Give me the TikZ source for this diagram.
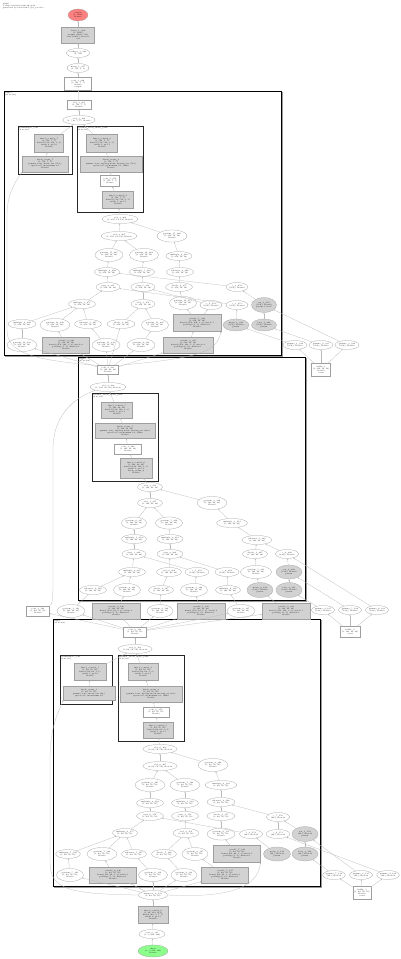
\documentclass[tikz,border=0pt]{standalone}
\usetikzlibrary{arrows.meta,shapes.geometric}
\newcommand\tf{\fontsize{1.8}{2.15}\selectfont}
\tikzset{
 base/.style={inner sep=0pt, font=\tf, align=center, line width=0.25pt},
 el/.style={base, ellipse, draw=gray!75, fill=white},
 gel/.style={base, ellipse, draw=gray!75, fill=gray!35},
 grect/.style={base, rectangle, draw=gray!75, fill=gray!35},
 wrect/.style={base, rectangle, draw=gray!75, fill=white},
 edge/.style={draw=gray!55, line width=0.25pt, -{Stealth[length=1.5pt,width=1.3pt]}},
 clus/.style={draw=black, line width=0.7pt},
 clshadow/.style={draw=gray!80, line width=1pt},
 subc/.style={draw=black!85, line width=0.55pt},
 cllab/.style={anchor=north west, font=\tf, align=left, inner sep=0.6pt},
}
\newcommand\El[6]{\node[el,minimum width=#4pt,minimum height=#5pt] (#1) at (#2,#3) {#6};}
\newcommand\Ge[6]{\node[gel,minimum width=#4pt,minimum height=#5pt] (#1) at (#2,#3) {#6};}
\newcommand\Gr[6]{\node[grect,minimum width=#4pt,minimum height=#5pt] (#1) at (#2,#3) {#6};}
\newcommand\Wr[6]{\node[wrect,minimum width=#4pt,minimum height=#5pt] (#1) at (#2,#3) {#6};}
\newcommand\Clu[5]{\draw[clshadow] (#1+1,#2+1) rectangle (#3+1,#4+1); \draw[clus,fill=white] (#1,#2) rectangle (#3,#4); \node[cllab] at (#1,#2) {#5};}
\begin{document}
\begin{tikzpicture}[x=1pt,y=-1pt]
\fill[white] (0,0) rectangle (400,959);
\useasboundingbox (0,0) rectangle (400,959);
\node[cllab] (title) at (2,2) {graph\\3 stage residual network, fp32\\generated by relay.build, opt\_level=3};
% ---------- clusters ----------
\Clu{4}{91}{281}{355}{stage3\\(31 nodes)}
\draw[subc] (18,126) rectangle (72,174); \node[cllab] at (18,126) {downsample\_conv\\(2 nodes)};
\draw[subc] (77,126) rectangle (143,212); \node[cllab] at (77,126) {residual\_block\_main\_path\\(4 nodes)};
\Clu{78}{357}{305}{600}{stage2\\(27 nodes)}
\draw[subc] (92,393) rectangle (158,481); \node[cllab] at (92,393) {residual\_block\_main\_path\\(4 nodes)};
\Clu{53}{619}{320}{886}{stage1\\(31 nodes)}
\draw[subc] (60,655) rectangle (112,704); \node[cllab] at (60,655) {downsample\_conv\\(2 nodes)};
\draw[subc] (118,655) rectangle (184,741); \node[cllab] at (118,655) {residual\_block\_main\_path\\(4 nodes)};
% ---------- top ----------
\node[base,ellipse,draw=gray!75,fill=red!50,minimum width=20pt,minimum height=12pt] (outp) at (78,15) {output\\(1, 1000)\\float32};
\Gr{r0}{78}{35}{33}{16}{dense\_1\_289\\(1, 1000)\\weight (1000, 512)\\bias (1000,), float32\\out}
\El{e0}{78}{53}{22}{9}{reshape\_1\_288\\(1, 512)}
\El{e1}{78}{68}{22}{9}{mean\_1\_287\\(1, 512, 1, 1)}
\Wr{w0}{78}{84}{27}{13}{relu\_3\_286\\(1, 512, 7, 7)\\float32\\output}
% ---------- cluster 1 ----------
\Wr{c1w}{79}{105}{24}{9}{add\_3\_285\\(1, 512, 7, 7)\\float32}
\El{c1e}{79}{120}{32}{9}{add\_3\_284\\(1, 512, 7, 7), float32}
\Gr{a1}{49}{143}{29}{18}{fused\_conv2d\_7\\(1, 512, 7, 7)\\kernel (512, 256, 1, 1)\\stride 2, pad 0\\float32}
\Gr{a2}{45}{164}{46}{16}{batch\_norm\_7\\(1, 512, 7, 7)\\gamma, beta, mean, var (512,)\\eps=1e-05, momentum 0.1\\float32}
\Gr{b1}{102}{143}{31}{18}{fused\_conv2d\_8\\(1, 512, 7, 7)\\kernel (512, 512, 3, 3)\\stride 1, pad 1\\float32}
\Gr{b2}{111}{164}{62}{16}{batch\_norm\_8\\(1, 512, 7, 7)\\gamma, beta, moving mean, moving var (512,)\\eps=1e-05, momentum 0.1, affine\\float32}
\Wr{b3}{110}{181}{19}{11}{relu\_2\_270\\(1, 512, 7, 7)\\float32}
\Gr{b4}{118}{200}{31}{17}{fused\_conv2d\_9\\(1, 512, 7, 7)\\kernel (512, 512, 3, 3)\\stride 1, pad 1\\float32}
\El{ca1}{120}{219}{33}{9}{add\_2\_268\\(1, 256, 14, 14), float32}
\El{ca2}{119}{236}{32}{9}{add\_2\_267\\(1, 256, 14, 14), float32}
\El{cr1}{172}{236}{30}{12}{getitem\_17\_266\\(1, 256, 14, 14)\\float32}
\El{p1}{109}{255}{28}{13}{getitem\_15\_265\\(1, 256, 14, 14)\\float32}
\El{p2}{144}{255}{29}{13}{getitem\_16\_264\\(1, 256, 14, 14)\\float32}
\El{p3}{179}{256}{26}{9}{multiply\_6\_263\\(1, 256, 14, 14)}
\El{q1}{107}{272}{25}{9}{multiply\_4\_262\\(1, 256, 14, 14)}
\El{q2}{142}{272}{25}{9}{multiply\_5\_261\\(1, 256, 14, 14)}
\El{q3}{180}{272}{27}{9}{subtract\_2\_260\\(1, 256, 14, 14)}
\El{s1}{108}{287}{24}{9}{sqrt\_4\_259\\(1, 256, 14, 14)}
\El{s2}{143}{287}{24}{9}{sqrt\_5\_258\\(1, 256, 14, 14)}
\El{s3}{179}{287}{27}{9}{divide\_2\_257\\(1, 256, 14, 14)}
\El{s4}{237}{287}{21}{9}{c\_1\_256\\(256,), float32}
\El{t1}{82}{304}{27}{9}{multiply\_3\_255\\(1, 256, 14, 14)}
\El{t2}{143}{304}{24}{9}{add\_1\_254\\(1, 256, 14, 14)}
\El{t3}{183}{303}{27}{13}{getitem\_14\_253\\(1, 256, 14, 14)\\float32}
\El{t4}{211}{305}{22}{9}{c\_2\_252\\(256,), float32}
\El{t5}{237}{305}{22}{9}{c\_3\_251\\(256,), float32}
\Ge{t6}{264}{305}{25}{15}{var\_1\_250\\(256,), float32\\param, 1.0e-05}
\El{u1}{22}{324}{28}{9}{multiply\_2\_249\\(1, 256, 14, 14)}
\El{u2}{55}{325}{30}{13}{getitem\_12\_248\\(1, 256, 14, 14)\\float32}
\El{u3}{88}{324}{27}{9}{subtract\_1\_247\\(1, 256, 14, 14)}
\El{u4}{121}{324}{28}{9}{divide\_1\_246\\(1, 256, 14, 14)}
\El{u5}{155}{325}{27}{13}{getitem\_13\_245\\(1, 256, 14, 14)\\float32}
\Gr{u6}{197}{323}{48}{17}{conv2d\_5\_244\\(1, 256, 14, 14)\\kernel (256, 256, 3, 3), stride 1\\padding (1, 1), dilation 1\\float32}
\Ge{u7}{236}{325}{26}{12}{mean\_1\_243\\(256,), float32\\param}
\Ge{u8}{264}{325}{25}{12}{bias\_1\_242\\(256,), float32\\param}
\El{v1}{22}{345}{30}{13}{getitem\_10\_241\\(1, 256, 14, 14)\\float32}
\Gr{v2}{66}{345}{47}{16}{conv2d\_4\_240\\(1, 256, 14, 14)\\kernel (256, 128, 3, 3), stride 2\\padding (1, 1), dilation 1\\float32}
\El{v3}{106}{345}{28}{13}{getitem\_11\_239\\(1, 256, 14, 14)\\float32}
\El{v4}{141}{345}{28}{13}{getitem\_9\_238\\(1, 256, 14, 14)\\float32}
\Gr{v5}{188}{345}{50}{16}{conv2d\_3\_237\\(1, 256, 14, 14)\\kernel (256, 128, 1, 1), stride 2\\padding (0, 0), dilation 1\\float32}
\El{o1}{295}{345}{24}{9}{gamma\_1\_236\\(256,), float32}
\El{o2}{321}{345}{24}{9}{gamma\_2\_235\\(256,), float32}
\El{o3}{347}{345}{24}{9}{gamma\_3\_234\\(256,), float32}
\Wr{ow1}{321}{370}{19}{13}{buffer\_1\\(1, 256, 14, 14)\\float32\\const}
% ---------- cluster 2 ----------
\Wr{c2w}{108}{370}{21}{9}{relu\_2\_233\\(1, 128, 28, 28)\\float32}
\El{c2e}{108}{387}{31}{9}{add\_2\_232\\(1, 128, 28, 28), float32}
\Gr{cc1}{117}{410}{31}{16}{fused\_conv2d\_5\\(1, 128, 28, 28)\\kernel (128, 128, 3, 3)\\stride 1, pad 1\\float32}
\Gr{cc2}{125}{431}{60}{15}{batch\_norm\_5\\(1, 128, 28, 28)\\gamma, beta, moving mean, moving var (128,)\\eps=1e-05, momentum 0.1, affine\\float32}
\Wr{cc3}{128}{449}{27}{10}{relu\_1\_220\\(1, 128, 28, 28)\\float32}
\Gr{cc4}{136}{468}{32}{20}{fused\_conv2d\_6\\(1, 128, 28, 28)\\kernel (128, 128, 3, 3)\\stride 1, pad 1\\batch\_norm\_6\\float32}
\El{da1}{150}{487}{25}{9}{add\_1\_218\\(1, 128, 28, 28)}
\El{da2}{150}{503}{25}{9}{add\_1\_217\\(1, 128, 28, 28)}
\El{dr}{212}{503}{30}{13}{getitem\_8\_216\\(1, 128, 28, 28)\\float32}
\El{m1}{134}{523}{25}{12}{getitem\_6\_215\\(1, 128, 28, 28)\\float32}
\El{m2}{169}{523}{27}{12}{getitem\_7\_214\\(1, 128, 28, 28)\\float32}
\El{m3}{232}{523}{31}{9}{multiply\_3\_213\\(1, 128, 28, 28)}
\El{n1}{134}{539}{25}{9}{multiply\_1\_212\\(1, 128, 28, 28)}
\El{n2}{170}{539}{26}{9}{multiply\_2\_211\\(1, 128, 28, 28)}
\El{n3}{257}{540}{30}{9}{subtract\_1\_210\\(1, 128, 28, 28)}
\El{k1}{134}{554}{24}{9}{sqrt\_1\_209\\(1, 128, 28, 28)}
\El{k2}{170}{554}{26}{9}{sqrt\_2\_208\\(1, 128, 28, 28)}
\El{k3}{255}{554}{25}{9}{divide\_1\_207\\(1, 128, 28, 28)}
\El{k4}{287}{554}{23}{9}{c\_4\_206\\(128,), float32}
\El{j1}{132}{572}{27}{9}{multiply\_0\_205\\(1, 128, 28, 28)}
\El{j2}{169}{572}{25}{9}{add\_0\_204\\(1, 128, 28, 28)}
\El{j3}{197}{572}{24}{9}{c\_5\_203\\(128,), float32}
\El{j4}{227}{572}{24}{9}{c\_6\_202\\(128,), float32}
\El{j5}{256}{572}{31}{13}{getitem\_5\_201\\(1, 128, 28, 28)\\float32}
\Ge{j6}{289}{572}{26}{14}{var\_2\_200\\(128,), float32\\param}
\El{i1}{93}{590}{27}{9}{subtract\_0\_199\\(1, 128, 28, 28)}
\El{i2}{127}{590}{27}{13}{getitem\_4\_198\\(1, 128, 28, 28)\\float32}
\El{i3}{161}{590}{25}{9}{divide\_0\_197\\(1, 128, 28, 28)}
\El{i4}{194}{590}{27}{13}{getitem\_3\_196\\(1, 128, 28, 28)\\float32}
\El{i5}{228}{590}{25}{9}{multiply\_9\_195\\(1, 128, 28, 28)}
\Ge{i6}{260}{590}{26}{15}{mean\_2\_194\\(128,), float32\\param}
\Ge{i7}{289}{590}{26}{15}{bias\_2\_193\\(128,), float32\\param}
\Wr{h1}{38}{611}{23}{10}{relu\_1\_192\\(1, 64, 56, 56)\\float32}
\El{h2}{71}{611}{28}{13}{getitem\_1\_191\\(1, 128, 28, 28)\\float32}
\Gr{h3}{116}{611}{48}{16}{conv2d\_2\_190\\(1, 128, 28, 28)\\kernel (128, 64, 3, 3), stride 2\\padding (1, 1), dilation 1\\float32}
\El{h4}{160}{611}{26}{13}{getitem\_2\_189\\(1, 128, 28, 28)\\float32}
\Gr{h5}{201}{611}{48}{16}{conv2d\_1\_188\\(1, 128, 28, 28)\\kernel (128, 64, 1, 1), stride 2\\padding (0, 0), dilation 1\\float32}
\El{h6}{241}{611}{28}{13}{getitem\_0\_187\\(1, 128, 28, 28)\\float32}
\Gr{h7}{286}{611}{48}{16}{conv2d\_0\_186\\(1, 128, 28, 28)\\kernel (128, 128, 3, 3), stride 1\\padding (1, 1), dilation 1\\float32}
\El{o4}{323}{610}{23}{9}{gamma\_4\_185\\(128,), float32}
\El{o5}{350}{610}{23}{9}{gamma\_5\_184\\(128,), float32}
\El{o6}{377}{610}{23}{9}{gamma\_6\_183\\(128,), float32}
\Wr{ow2}{350}{632}{20}{11}{buffer\_2\\(1, 128, 28, 28)\\const}
% ---------- cluster 3 ----------
\Wr{c3w}{135}{632}{23}{10}{relu\_0\_182\\(1, 64, 56, 56)\\float32}
\El{c3e}{135}{649}{31}{9}{add\_0\_181\\(1, 64, 56, 56), float32}
\Gr{d1}{90}{672}{32}{17}{fused\_conv2d\_1\\(1, 64, 56, 56)\\kernel (64, 64, 1, 1)\\stride 1, pad 0\\float32}
\Gr{d2}{89}{693}{52}{14}{batch\_norm\_1\\(1, 64, 56, 56)\\gamma, beta, mean, var (64,)\\eps=1e-05, momentum 0.1}
\Gr{ee1}{143}{672}{30}{17}{fused\_conv2d\_2\\(1, 64, 56, 56)\\kernel (64, 64, 3, 3)\\stride 1, pad 1\\float32}
\Gr{ee2}{151}{694}{62}{16}{batch\_norm\_2\\(1, 64, 56, 56)\\gamma, beta, moving mean, moving var (64,)\\eps=1e-05, momentum 0.1, affine\\float32}
\Wr{ee3}{156}{712}{26}{10}{relu\_0\_170\\(1, 64, 56, 56)\\float32}
\Gr{ee4}{158}{730}{30}{16}{fused\_conv2d\_3\\(1, 64, 56, 56)\\kernel (64, 64, 3, 3)\\stride 1, pad 1\\float32}
\El{fa1}{160}{749}{32}{9}{add\_0\_168\\(1, 64, 56, 56), float32}
\El{fa2}{160}{766}{32}{9}{add\_0\_167\\(1, 64, 56, 56), float32}
\El{fr}{213}{765}{30}{13}{getitem\_2\_166\\(1, 64, 56, 56)\\float32}
\El{f1}{150}{785}{30}{13}{getitem\_0\_165\\(1, 64, 56, 56)\\float32}
\El{f2}{185}{785}{30}{13}{getitem\_1\_164\\(1, 64, 56, 56)\\float32}
\El{f3}{221}{785}{32}{9}{multiply\_2\_163\\(1, 64, 56, 56)}
\El{g1}{150}{803}{27}{9}{multiply\_0\_162\\(1, 64, 56, 56)}
\El{g2}{185}{803}{27}{9}{multiply\_1\_161\\(1, 64, 56, 56)}
\El{g3}{221}{802}{28}{9}{subtract\_0\_160\\(1, 64, 56, 56)}
\El{l1}{150}{816}{27}{9}{sqrt\_0\_159\\(1, 64, 56, 56)}
\El{l2}{185}{816}{27}{9}{sqrt\_1\_158\\(1, 64, 56, 56)}
\El{l3}{221}{816}{28}{9}{divide\_0\_157\\(1, 64, 56, 56)}
\El{l4}{278}{817}{23}{9}{c\_7\_156\\(64,), float32}
\El{x1}{125}{833}{25}{9}{multiply\_8\_155\\(1, 64, 56, 56)}
\El{x2}{186}{833}{26}{9}{add\_8\_154\\(1, 64, 56, 56)}
\El{x3}{221}{834}{28}{12}{getitem\_9\_153\\(1, 64, 56, 56)\\float32}
\El{x4}{251}{834}{23}{9}{c\_8\_152\\(64,), float32}
\El{x5}{278}{834}{24}{9}{c\_9\_151\\(64,), float32}
\Ge{x6}{305}{834}{26}{15}{var\_3\_150\\(64,), float32\\param}
\El{y1}{68}{854}{24}{9}{multiply\_7\_149\\(1, 64, 56, 56)}
\El{y2}{102}{854}{30}{13}{getitem\_7\_148\\(1, 64, 56, 56)\\float32}
\El{y3}{134}{854}{25}{9}{subtract\_7\_147\\(1, 64, 56, 56)}
\El{y4}{164}{854}{25}{9}{divide\_7\_146\\(1, 64, 56, 56)}
\El{y5}{195}{854}{26}{13}{getitem\_8\_145\\(1, 64, 56, 56)\\float32}
\Gr{y6}{237}{854}{47}{17}{conv2d\_7\_144\\(1, 64, 56, 56)\\kernel (64, 64, 3, 3), stride 1\\padding (1, 1), dilation 1\\float32}
\Ge{y7}{277}{854}{27}{14}{mean\_3\_143\\(64,), float32\\param}
\Ge{y8}{305}{854}{26}{14}{bias\_3\_142\\(64,), float32\\param}
\El{z1}{70}{875}{27}{13}{getitem\_5\_141\\(1, 64, 56, 56)\\float32}
\Gr{z2}{113}{875}{47}{16}{conv2d\_6\_140\\(1, 64, 56, 56)\\kernel (64, 64, 3, 3), stride 1\\padding (1, 1), dilation 1\\float32}
\El{z3}{153}{875}{29}{13}{getitem\_6\_139\\(1, 64, 56, 56)\\float32}
\El{z4}{184}{875}{26}{13}{getitem\_4\_138\\(1, 64, 56, 56)\\float32}
\Gr{z5}{225}{875}{47}{16}{conv2d\_5\_137\\(1, 64, 56, 56)\\kernel (64, 64, 1, 1), stride 1\\padding (0, 0), dilation 1\\float32}
\El{o7}{334}{875}{22}{9}{gamma\_7\_136\\(64,), float32}
\El{o8}{361}{875}{23}{9}{gamma\_8\_135\\(64,), float32}
\El{o9}{388}{875}{22}{9}{gamma\_9\_134\\(64,), float32}
\Wr{ow3}{362}{893}{18}{13}{buffer\_3\\(1, 64, 56, 56)\\float32\\const}
% ---------- bottom ----------
\El{bot}{153}{895}{29}{9}{maxpool\_0\_133\\(1, 64, 56, 56)}
\Gr{bgr}{153}{915}{30}{17}{fused\_conv2d\_0\\(1, 64, 112, 112)\\kernel (64, 3, 7, 7)\\stride 2, pad 3\\float32}
\El{be}{152}{934}{26}{9}{cast\_0\_131\\(1, 3, 224, 224)}
\node[base,ellipse,draw=gray!75,fill=green!45,minimum width=30pt,minimum height=12pt] (inp) at (153,951) {input\\(1, 3, 224, 224)\\float32};
% ---------- edges ----------
\foreach \a/\b in {c1w/w0,w0/e1,e1/e0,e0/r0,r0/outp,
 c1e/c1w,a1/c1e,b1/c1e,a2/a1,b2/b1,b3/b2,b4/b3,ca1/b4,ca2/ca1,cr1/ca1,p1/ca2,p2/ca2,p3/cr1,
 q1/p1,q2/p2,q3/p3,s1/q1,s2/q2,s3/q3,s4/q1,t1/s1,t2/s2,t3/s3,t4/s2,t5/s1,t6/s4,
 u1/t1,u2/t1,u3/t1,u4/t2,u5/t2,u6/t3,u6/t4,u7/t5,u8/t6,v1/u1,v2/u2,v3/u3,v4/u5,v5/u6,
 ow1/o1,ow1/o2,ow1/o3,o1/u7,o2/u8,o3/t6,c2w/v1,c2w/v2,c2w/v3,c2w/v4,c2w/v5,c2w/u4,
 c2e/c2w,cc1/c2e,cc2/cc1,cc3/cc2,cc4/cc3,da1/cc4,da2/da1,dr/da1,m1/da2,m2/da2,m3/dr,
 n1/m1,n2/m2,n3/m3,k1/n1,k2/n2,k3/n3,k4/n3,j1/k1,j2/k2,j3/k1,j4/k2,j5/k3,j6/k4,
 i1/j1,i2/j1,i3/j2,i4/j3,i5/j4,i6/j5,i7/j6,h2/i1,h3/i2,h4/i3,h5/i4,h6/i5,h7/i6,
 ow2/o4,ow2/o5,ow2/o6,o4/i7,o5/j6,o6/k4,c3w/h1,c3w/h2,c3w/h3,c3w/h4,c3w/h5,c3w/h6,c3w/h7,
 c3e/c3w,d1/c3e,ee1/c3e,d2/d1,ee2/ee1,ee3/ee2,ee4/ee3,fa1/ee4,fa2/fa1,fr/fa1,f1/fa2,f2/fa2,f3/fr,
 g1/f1,g2/f2,g3/f3,l1/g1,l2/g2,l3/g3,l4/g3,x1/l1,x2/l2,x3/l3,x4/l1,x5/l4,x6/l4,
 y1/x1,y2/x1,y3/x1,y4/x2,y5/x2,y6/x3,y7/x4,y8/x6,z1/y1,z2/y2,z3/y3,z4/y4,z5/y5,
 ow3/o7,ow3/o8,ow3/o9,o7/y8,o8/x6,o9/x5,bot/z1,bot/z2,bot/z3,bot/z4,bot/z5,bgr/bot,be/bgr,inp/be}
 {\draw[edge] (\a) -- (\b);}
\draw[edge] (c2w.north west) .. controls (30,360) and (7,352) .. (7,330) -- (7,215) .. controls (7,195) and (15,182) .. (a2.south west);
\draw[edge] (c2w.north east) .. controls (200,358) and (216,352) .. (u6.south east);
\draw[edge] (h1.north east) .. controls (53,604) and (53,598) .. (53,570) -- (53,450) .. controls (53,410) and (80,396) .. (c2e.south west);
\draw[edge] (bot.west) .. controls (70,894) and (50,890) .. (50,862) -- (50,760) .. controls (50,720) and (62,707) .. (d2.south west);
\draw[edge] (bot.east) .. controls (245,899) and (258,880) .. (y6.south east);
\end{tikzpicture}
\end{document}
